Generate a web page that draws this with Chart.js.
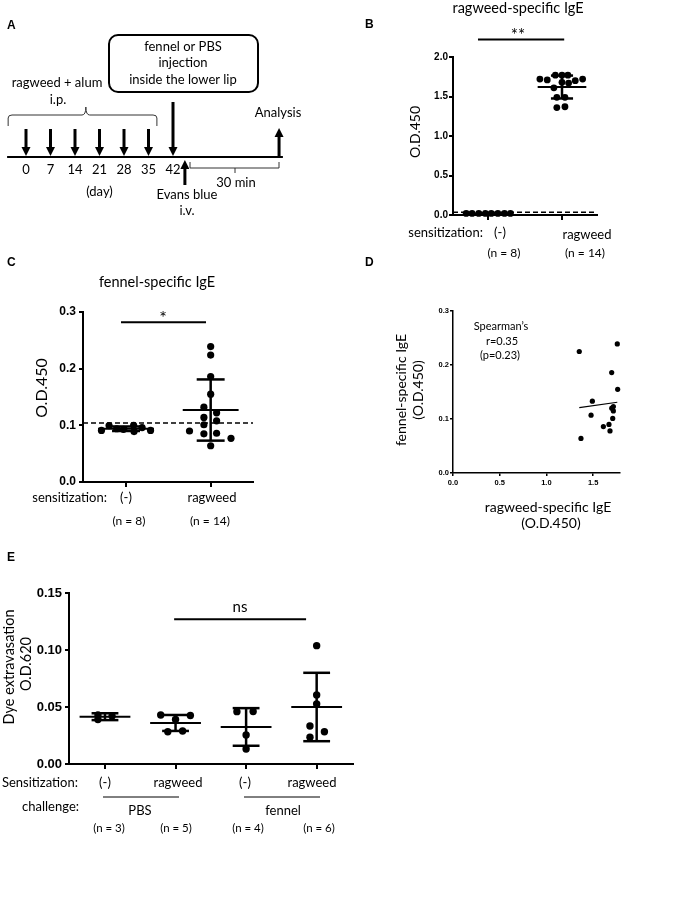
<!DOCTYPE html>
<html>
<head>
<meta charset="utf-8">
<script src="https://cdn.jsdelivr.net/npm/chart.js@4.4.0/dist/chart.umd.min.js"></script>
<style>
  body { margin: 0; background: #fff; }
  #page { position: relative; width: 695px; height: 914px; overflow: hidden; }
  #page canvas { position: absolute; left: 0; top: 0; }
</style>
</head>
<body>
<div id="page">
  <canvas id="chartA" width="695" height="914"></canvas>
  <canvas id="chartB" width="695" height="914"></canvas>
  <canvas id="chartC" width="695" height="914"></canvas>
  <canvas id="chartD" width="695" height="914"></canvas>
  <canvas id="chartE" width="695" height="914"></canvas>
</div>
<script>
// A: protocol (days)
const injectionDays = [0, 7, 14, 21, 28, 35];
const challengeDay = 42;
const dayLabels = ["0", "7", "14", "21", "28", "35", "42"];
const evansBlueDay = 45.4;
const analysisDay = 72.3;

// B: ragweed-specific IgE
const sensGroups = ["(-)", "ragweed"];
const bCounts = ["(n = 8)", "(n = 14)"];
const bNeg = [0.02, 0.02, 0.02, 0.02, 0.02, 0.02, 0.02, 0.02];
const bNegJit = [-0.30, -0.22, -0.13, -0.04, 0.04, 0.13, 0.22, 0.30];
const bRag = [1.77, 1.77, 1.77, 1.72, 1.71, 1.70, 1.72, 1.68, 1.67, 1.61, 1.49, 1.49, 1.36, 1.37];
const bRagJit = [-0.09, 0, 0.08, -0.30, -0.20, 0.18, 0.28, 0, 0.09, -0.11, -0.07, 0.04, -0.07, 0.04];
const bMean = [0.02, 1.62];
const bSd = [0.002, 0.145];
const bCutoff = 0.035;

// C: fennel-specific IgE
const cCounts = ["(n = 8)", "(n = 14)"];
const cNeg = [0.091, 0.0995, 0.094, 0.093, 0.100, 0.089, 0.096, 0.091];
const cNegJit = [-0.29, -0.20, -0.11, -0.03, 0.09, 0.095, 0.19, 0.29];
const cRag = [0.239, 0.224, 0.186, 0.155, 0.132, 0.122, 0.114, 0.108, 0.101, 0.090, 0.086, 0.085, 0.077, 0.064];
const cRagJit = [0, 0, 0, 0, -0.08, 0.07, -0.08, 0.07, -0.08, -0.25, 0.07, -0.08, 0.24, 0];
const cMean = [0.094, 0.127];
const cSd = [0.004, 0.054];
const cCutoff = 0.104;

// D: ragweed vs fennel IgE
const dRagweed = [1.352, 1.759, 1.699, 1.763, 1.492, 1.717, 1.717, 1.478, 1.710, 1.610, 1.670, 1.681, 1.370, 1.700];
const dFennel = [0.225, 0.239, 0.186, 0.155, 0.133, 0.123, 0.115, 0.107, 0.101, 0.086, 0.090, 0.078, 0.064, 0.120];
const dFitX = [1.352, 1.759];
const dFitY = [0.121, 0.131];

// E: dye extravasation
const eSens = ["(-)", "ragweed", "(-)", "ragweed"];
const eCounts = ["(n = 3)", "(n = 5)", "(n = 4)", "(n = 6)"];
const eChallenge = ["PBS", "fennel"];
const ePbsNeg = [0.043, 0.039, 0.042];
const ePbsNegJit = [-0.10, -0.10, 0.10];
const ePbsRag = [0.043, 0.0425, 0.039, 0.0283, 0.029];
const ePbsRagJit = [-0.21, 0.21, 0, -0.11, 0.10];
const eFenNeg = [0.0459, 0.046, 0.0254, 0.0132];
const eFenNegJit = [-0.13, 0.10, 0, 0];
const eFenRag = [0.1038, 0.0605, 0.0526, 0.0333, 0.0283, 0.0234];
const eFenRagJit = [0, 0, 0, -0.095, 0.11, -0.095];
const eMean = [0.0415, 0.036, 0.0325, 0.050];
const eSd = [0.003, 0.007, 0.0165, 0.030];

const BODY = "Lato";
const TICK = "Liberation Sans";
const PW = 695, PH = 914;
Chart.defaults.color = "#000";
Chart.defaults.font.family = BODY;

function txt(ctx, s, x, y, size, opt) {
  opt = opt || {};
  ctx.save();
  ctx.font = (opt.bold ? "bold " : "") + size + "px " + (opt.family || BODY);
  ctx.fillStyle = "#000";
  ctx.textAlign = opt.align || "center";
  ctx.textBaseline = "middle";
  ctx.translate(x, y);
  if (opt.rot) ctx.rotate(opt.rot);
  ctx.fillText(s, 0, 0);
  ctx.restore();
}

function line(ctx, x1, y1, x2, y2, w, dash) {
  ctx.save();
  ctx.strokeStyle = "#000";
  ctx.lineWidth = w;
  ctx.setLineDash(dash || []);
  ctx.beginPath();
  ctx.moveTo(x1, y1);
  ctx.lineTo(x2, y2);
  ctx.stroke();
  ctx.restore();
}

// area = page box of the plot area, axis boxes are fixed size
function padFor(area, yw, xh) {
  return { left: area.left - yw, right: PW - area.right, top: area.top, bottom: PH - area.bottom - xh };
}

function yScale(max, step, dec, size, tick, pad, bw) {
  return {
    min: 0, max: max,
    ticks: { stepSize: step, padding: pad, color: "#000", font: { family: TICK, weight: "bold", size: size },
      callback: v => v.toFixed(dec) },
    grid: { drawOnChartArea: false, color: "#000", lineWidth: bw, tickLength: tick },
    border: { color: "#000", width: bw },
    afterFit: s => { s.width = 45; }
  };
}

function xCat(min, max, count, tick, bw) {
  return {
    type: "linear", min: min, max: max,
    afterBuildTicks: s => { s.ticks = Array.from({ length: count }, (_, i) => ({ value: i + 1 })); },
    ticks: { display: false },
    grid: { drawOnChartArea: false, color: "#000", lineWidth: bw, tickLength: tick },
    border: { color: "#000", width: bw },
    afterFit: s => { s.height = 6; }
  };
}

// mean line + SD whiskers for each group, plus optional dashed cutoff
function summaryPlugin(mean, sd, meanHalf, capHalf, cutoff) {
  return {
    id: "summary",
    beforeDatasetsDraw(chart) {
      const ctx = chart.ctx, x = chart.scales.x, y = chart.scales.y, a = chart.chartArea;
      if (cutoff !== null) line(ctx, a.left, y.getPixelForValue(cutoff), a.right, y.getPixelForValue(cutoff), 1.6, [5, 3]);
      mean.forEach((m, i) => {
        const g = i + 1;
        const lo = y.getPixelForValue(m - sd[i]), hi = y.getPixelForValue(m + sd[i]);
        line(ctx, x.getPixelForValue(g - meanHalf), y.getPixelForValue(m), x.getPixelForValue(g + meanHalf), y.getPixelForValue(m), 2);
        line(ctx, x.getPixelForValue(g), lo, x.getPixelForValue(g), hi, 2.5);
        line(ctx, x.getPixelForValue(g - capHalf), lo, x.getPixelForValue(g + capHalf), lo, 2.5);
        line(ctx, x.getPixelForValue(g - capHalf), hi, x.getPixelForValue(g + capHalf), hi, 2.5);
      });
    }
  };
}

function dots(vals, jit, g, r) {
  return {
    data: vals.map((v, k) => ({ x: g + jit[k], y: v })),
    pointRadius: r, pointHoverRadius: r, backgroundColor: "#000", borderWidth: 0, clip: false
  };
}

function baseOptions(pad, scales) {
  return {
    responsive: false, animation: false, devicePixelRatio: 1,
    layout: { padding: pad },
    plugins: { legend: { display: false }, tooltip: { enabled: false } },
    scales: scales
  };
}

// ---------- A ----------
new Chart(document.getElementById("chartA"), {
  type: "scatter",
  data: { datasets: [{ data: injectionDays.map(d => ({ x: d, y: 0 })), pointRadius: 0 }] },
  options: {
    responsive: false, animation: false, devicePixelRatio: 1,
    layout: { padding: { left: 5, right: PW - 288.5, top: 0, bottom: PH - 220 } },
    plugins: { legend: { display: false }, tooltip: { enabled: false } },
    scales: { x: { display: false, min: -6, max: 75 }, y: { display: false, min: 0, max: 1 } }
  },
  plugins: [{
    id: "protocol",
    afterDraw(chart) {
      const ctx = chart.ctx, xs = chart.scales.x;
      const px = d => xs.getPixelForValue(d);
      const arrow = (x, yFrom, yTo) => {
        const dir = Math.sign(yTo - yFrom), head = 9, half = 4.5;
        line(ctx, x, yFrom, x, yTo - dir * head, 3);
        ctx.save();
        ctx.fillStyle = "#000";
        ctx.beginPath();
        ctx.moveTo(x - half, yTo - dir * head);
        ctx.lineTo(x + half, yTo - dir * head);
        ctx.lineTo(x, yTo);
        ctx.closePath();
        ctx.fill();
        ctx.restore();
      };
      txt(ctx, "A", 7, 26, 12, { bold: true, family: TICK, align: "left" });
      // box
      ctx.save();
      ctx.strokeStyle = "#000";
      ctx.lineWidth = 2;
      ctx.beginPath();
      ctx.roundRect(109, 35, 149, 57, 9);
      ctx.stroke();
      ctx.restore();
      txt(ctx, "fennel or PBS", 183, 47, 13);
      txt(ctx, "injection", 183, 63, 13);
      txt(ctx, "inside the lower lip", 183, 80, 13);
      txt(ctx, "ragweed + alum", 57, 83, 13);
      txt(ctx, "i.p.", 58, 100, 13);
      // brace
      ctx.save();
      ctx.strokeStyle = "#333";
      ctx.lineWidth = 1;
      ctx.beginPath();
      ctx.moveTo(px(-5.1), 126);
      ctx.lineTo(px(-5.1), 118);
      ctx.quadraticCurveTo(px(-5.1), 115, px(-4), 115);
      ctx.lineTo(px(16), 115);
      ctx.quadraticCurveTo(px(17.1), 115, px(17.1), 107);
      ctx.quadraticCurveTo(px(17.1), 115, px(18.2), 115);
      ctx.lineTo(px(36.3), 115);
      ctx.quadraticCurveTo(px(37.4), 115, px(37.4), 118);
      ctx.lineTo(px(37.4), 126);
      ctx.stroke();
      ctx.restore();
      // timeline
      line(ctx, px(-5.4), 157, px(73.4), 157, 2);
      injectionDays.forEach(d => arrow(px(d), 129, 156));
      arrow(px(challengeDay), 102, 156);
      injectionDays.concat([challengeDay]).forEach((d, i) => txt(ctx, dayLabels[i], px(d), 170, 13));
      txt(ctx, "(day)", px(21), 192, 13);
      arrow(px(evansBlueDay), 185, 160);
      txt(ctx, "Evans blue", 187, 195, 13);
      txt(ctx, "i.v.", 187, 211, 13);
      arrow(px(analysisDay), 157, 128);
      txt(ctx, "Analysis", 278, 113, 13);
      // 30 min bracket
      ctx.save();
      ctx.strokeStyle = "#333";
      ctx.lineWidth = 1;
      ctx.beginPath();
      ctx.moveTo(190, 162);
      ctx.lineTo(190, 168);
      ctx.lineTo(279, 168);
      ctx.lineTo(279, 162);
      ctx.moveTo(235, 168);
      ctx.lineTo(235, 173);
      ctx.stroke();
      ctx.restore();
      txt(ctx, "30 min", 236, 183, 13);
    }
  }]
});

// ---------- B ----------
const areaB = { left: 453, right: 597, top: 57, bottom: 215 };
new Chart(document.getElementById("chartB"), {
  type: "scatter",
  data: { datasets: [dots(bNeg, bNegJit, 1, 3.4), dots(bRag, bRagJit, 2, 3.4)] },
  options: baseOptions(padFor(areaB, 45, 6), {
    x: xCat(0.521, 2.475, 2, 5, 2),
    y: yScale(2, 0.5, 1, 10, 4, 1, 2)
  }),
  plugins: [summaryPlugin(bMean, bSd, 0.33, 0.15, bCutoff), {
    id: "labelsB",
    afterDraw(chart) {
      const ctx = chart.ctx, x = chart.scales.x, y = chart.scales.y;
      txt(ctx, "B", 365, 25, 12, { bold: true, family: TICK, align: "left" });
      txt(ctx, "ragweed-specific IgE", 518, 8, 14.5);
      line(ctx, x.getPixelForValue(0.86), y.getPixelForValue(2.22), x.getPixelForValue(2.03), y.getPixelForValue(2.22), 2);
      txt(ctx, "**", 518, 36, 17);
      txt(ctx, "O.D.450", 415, 132, 14, { rot: -Math.PI / 2 });
      txt(ctx, "sensitization:", 483, 233, 13, { align: "right" });
      txt(ctx, sensGroups[0], 500, 233, 13);
      txt(ctx, sensGroups[1], 587, 235, 13);
      txt(ctx, bCounts[0], 504, 253, 12);
      txt(ctx, bCounts[1], 585, 253, 12);
    }
  }]
});

// ---------- C ----------
const areaC = { left: 83, right: 253, top: 312, bottom: 482 };
new Chart(document.getElementById("chartC"), {
  type: "scatter",
  data: { datasets: [dots(cNeg, cNegJit, 1, 3.6), dots(cRag, cRagJit, 2, 3.6)] },
  options: baseOptions(padFor(areaC, 45, 6), {
    x: xCat(0.492, 2.5, 2, 5, 2),
    y: yScale(0.3, 0.1, 1, 12, 4, 3, 2)
  }),
  plugins: [summaryPlugin(cMean, cSd, 0.33, 0.165, cCutoff), {
    id: "labelsC",
    afterDraw(chart) {
      const ctx = chart.ctx, x = chart.scales.x, y = chart.scales.y;
      txt(ctx, "C", 7, 263, 12, { bold: true, family: TICK, align: "left" });
      txt(ctx, "fennel-specific IgE", 157, 282, 14.5);
      line(ctx, x.getPixelForValue(0.941), y.getPixelForValue(0.282), x.getPixelForValue(1.945), y.getPixelForValue(0.282), 2);
      txt(ctx, "*", 163, 318, 18);
      txt(ctx, "O.D.450", 42, 388, 16, { rot: -Math.PI / 2 });
      txt(ctx, "sensitization:", 107, 498, 13, { align: "right" });
      txt(ctx, sensGroups[0], 126, 498, 13);
      txt(ctx, sensGroups[1], 212, 498, 13);
      txt(ctx, cCounts[0], 129, 521, 12);
      txt(ctx, cCounts[1], 210, 521, 12);
    }
  }]
});

// ---------- D ----------
const areaD = { left: 453, right: 620, top: 311, bottom: 473 };
new Chart(document.getElementById("chartD"), {
  type: "scatter",
  data: {
    datasets: [
      { data: dRagweed.map((v, i) => ({ x: v, y: dFennel[i] })), pointRadius: 2.6, backgroundColor: "#000", borderWidth: 0, clip: false },
      { type: "line", data: dFitX.map((v, i) => ({ x: v, y: dFitY[i] })), borderColor: "#000", borderWidth: 1.2, pointRadius: 0, fill: false }
    ]
  },
  options: baseOptions(padFor(areaD, 45, 16), {
    x: {
      type: "linear", min: 0, max: 1.788,
      afterBuildTicks: s => { s.ticks = [0, 0.5, 1, 1.5].map(v => ({ value: v })); },
      ticks: { padding: 2, color: "#000", font: { family: TICK, weight: "bold", size: 7.5 }, callback: v => v.toFixed(1) },
      grid: { drawOnChartArea: false, color: "#000", lineWidth: 1.5, tickLength: 3 },
      border: { color: "#000", width: 1.5 },
      afterFit: s => { s.height = 16; }
    },
    y: yScale(0.3, 0.1, 1, 7.5, 3, 1, 1.5)
  }),
  plugins: [{
    id: "labelsD",
    afterDraw(chart) {
      const ctx = chart.ctx;
      txt(ctx, "D", 365, 263, 12, { bold: true, family: TICK, align: "left" });
      txt(ctx, "fennel-specific IgE", 401, 390, 14, { rot: -Math.PI / 2 });
      txt(ctx, "(O.D.450)", 418, 390, 14, { rot: -Math.PI / 2 });
      txt(ctx, "ragweed-specific IgE", 548, 507, 14);
      txt(ctx, "(O.D.450)", 551, 523, 14);
      txt(ctx, "Spearman\u2019s", 501, 326, 11);
      txt(ctx, "r=0.35", 502, 341, 11);
      txt(ctx, "(p=0.23)", 500, 355, 11);
    }
  }]
});

// ---------- E ----------
const areaE = { left: 69, right: 353, top: 593, bottom: 764 };
new Chart(document.getElementById("chartE"), {
  type: "scatter",
  data: {
    datasets: [
      dots(ePbsNeg, ePbsNegJit, 1, 3.7), dots(ePbsRag, ePbsRagJit, 2, 3.7),
      dots(eFenNeg, eFenNegJit, 3, 3.7), dots(eFenRag, eFenRagJit, 4, 3.7)
    ]
  },
  options: baseOptions(padFor(areaE, 45, 6), {
    x: xCat(0.49, 4.515, 4, 5, 2),
    y: yScale(0.15, 0.05, 2, 13, 4, 3, 2)
  }),
  plugins: [summaryPlugin(eMean, eSd, 0.36, 0.19, null), {
    id: "labelsE",
    afterDraw(chart) {
      const ctx = chart.ctx, x = chart.scales.x, y = chart.scales.y;
      txt(ctx, "E", 7, 558, 12, { bold: true, family: TICK, align: "left" });
      line(ctx, x.getPixelForValue(1.98), y.getPixelForValue(0.127), x.getPixelForValue(3.85), y.getPixelForValue(0.127), 2);
      txt(ctx, "ns", 240, 607, 15);
      txt(ctx, "Dye extravasation", 9, 667, 14.5, { rot: -Math.PI / 2 });
      txt(ctx, "O.D.620", 26, 664, 14.5, { rot: -Math.PI / 2 });
      txt(ctx, "Sensitization:", 78, 783, 13, { align: "right" });
      txt(ctx, "challenge:", 79, 807, 13, { align: "right" });
      const sensX = [105, 178, 245, 312];
      eSens.forEach((s, i) => txt(ctx, s, sensX[i], 783, 13));
      line(ctx, 103, 797, 179, 797, 1);
      line(ctx, 244, 797, 320, 797, 1);
      txt(ctx, eChallenge[0], 140, 811, 13);
      txt(ctx, eChallenge[1], 283, 811, 13);
      const nX = [109, 176, 248, 319];
      eCounts.forEach((s, i) => txt(ctx, s, nX[i], 828, 11.5));
    }
  }]
});
</script>
</body>
</html>
